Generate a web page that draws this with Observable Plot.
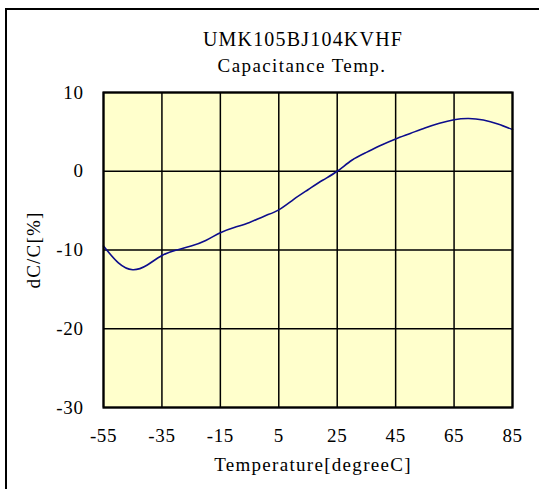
<!DOCTYPE html>
<html>
<head>
<meta charset="utf-8">
<script src="https://cdn.jsdelivr.net/npm/d3@7"></script>
<script src="https://cdn.jsdelivr.net/npm/@observablehq/plot@0.6"></script>
<style>
  html, body { margin: 0; padding: 0; background: #fff; }
  #wrap { position: relative; width: 539px; height: 489px; overflow: hidden; }
  #border { position: absolute; left: 5px; top: 8px; width: 560px; height: 520px; border: 2px solid #000; box-sizing: border-box; }
  #chart { position: absolute; left: 0; top: 0; }
  #chart svg, #chart svg text { font-family: "Liberation Serif", "Times New Roman", Times, serif !important; }
</style>
</head>
<body>
<div id="wrap"><div id="border"></div><div id="chart"></div></div>
<script>
const titleLines = ["UMK105BJ104KVHF", "Capacitance Temp."];
const xLabel = "Temperature[degreeC]";
const yLabel = "dC/C[%]";
const xTicks = [-55, -35, -15, 5, 25, 45, 65, 85];
const yTicks = [10, 0, -10, -20, -30];
const temps = [-55, -50, -45, -40, -35, -30, -25, -20, -15, -10, -5, 0, 5, 10, 15, 20, 25, 30, 35, 40, 45, 50, 55, 60, 65, 70, 75, 80, 85];
const dcc = [-9.5, -11.6, -12.5, -11.9, -10.7, -10.0, -9.5, -8.8, -7.8, -7.1, -6.5, -5.7, -4.9, -3.6, -2.35, -1.15, 0, 1.4, 2.4, 3.3, 4.1, 4.8, 5.5, 6.1, 6.55, 6.7, 6.5, 6.0, 5.3];

const data = temps.map((t, i) => ({t, v: dcc[i]}));

const chart = Plot.plot({
  width: 539,
  height: 489,
  marginLeft: 103,
  marginRight: 27,
  marginTop: 92,
  marginBottom: 82,
  style: {fontSize: "19px", background: "transparent", overflow: "visible", color: "#000"},
  x: {domain: [-55, 85], ticks: xTicks, tickSize: 0, tickPadding: 21, label: null, tickFormat: d => String(d)},
  y: {domain: [-30, 10], ticks: yTicks, tickSize: 0, tickPadding: 20, label: null, tickFormat: d => String(d)},
  marks: [
    Plot.frame({fill: "#FFFFCC", stroke: null}),
    Plot.gridX(xTicks, {stroke: "#000", strokeOpacity: 1, strokeWidth: 1.5}),
    Plot.gridY(yTicks, {stroke: "#000", strokeOpacity: 1, strokeWidth: 1.5}),
    Plot.line(data, {x: "t", y: "v", stroke: "#0d0d8c", strokeWidth: 1.6, curve: "natural"}),
    Plot.frame({stroke: "#000", strokeWidth: 2.2}),
    Plot.text([titleLines[0]], {text: d => d, frameAnchor: "top", lineAnchor: "middle", textAnchor: "middle", dy: -53, dx: -5, fontSize: 20}),
    Plot.text([titleLines[1]], {text: d => d, frameAnchor: "top", lineAnchor: "middle", textAnchor: "middle", dy: -27, dx: -6, fontSize: 19}),
    Plot.text([xLabel], {text: d => d, frameAnchor: "bottom", lineAnchor: "middle", textAnchor: "middle", dy: 57, dx: 5, fontSize: 19}),
    Plot.text([yLabel], {text: d => d, frameAnchor: "left", lineAnchor: "middle", textAnchor: "middle", dx: -70, rotate: -90, fontSize: 19})
  ]
});
d3.select(chart).selectAll("text").each(function() {
  const t = this.textContent;
  let s = "0.6px";
  if (t === titleLines[0]) s = "1.2px";
  else if (t === titleLines[1]) s = "1.4px";
  else if (t === xLabel) s = "1.3px";
  else if (t === yLabel) s = "1.2px";
  d3.select(this).style("letter-spacing", s);
});
document.getElementById("chart").appendChild(chart);
</script>
</body>
</html>
